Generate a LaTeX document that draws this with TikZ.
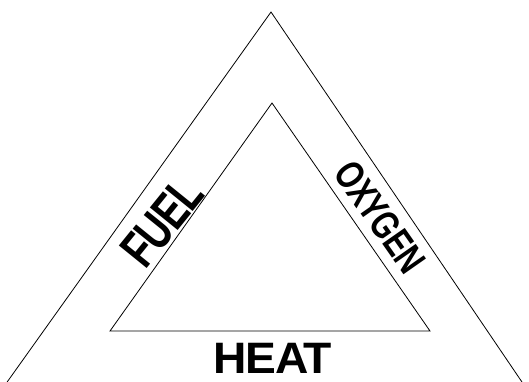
\documentclass[tikz,border=0pt]{standalone}
\usepackage{fontspec}
\usepackage{graphicx}
\setmainfont{Liberation Sans}
\begin{document}
\begin{tikzpicture}[x=1pt,y=-1pt,
  edge/.style={draw=black,line width=0.8pt,line join=miter},
  lbl/.style={inner sep=0pt}]
\useasboundingbox (0,0) rectangle (529,381);
\coordinate (oa) at (271,12);
\coordinate (ol) at (5,385);
\coordinate (or) at (524,385);
\coordinate (ia) at (272,103);
\coordinate (il) at (110,331);
\coordinate (ir) at (430,331);
\draw[edge] (ol) -- (oa) -- (or);
\draw[edge] (il) -- (ia) -- (ir) -- cycle;
\node[lbl,font=\fontsize{44}{44}\bfseries\addfontfeatures{LetterSpace=-3}] (heat) at (273,358) {\scalebox{1.05}[1]{HEAT}};
\node[lbl,font=\fontsize{52}{52}\bfseries\addfontfeatures{LetterSpace=-3},rotate=51] (fuel) at (162,222) {\scalebox{0.74}[1]{FUEL}};
\node[lbl,font=\fontsize{40}{40}\bfseries\addfontfeatures{LetterSpace=-3},rotate=-55] (oxy) at (380,217) {\scalebox{0.76}[1]{OXYGEN}};
\end{tikzpicture}
\end{document}
